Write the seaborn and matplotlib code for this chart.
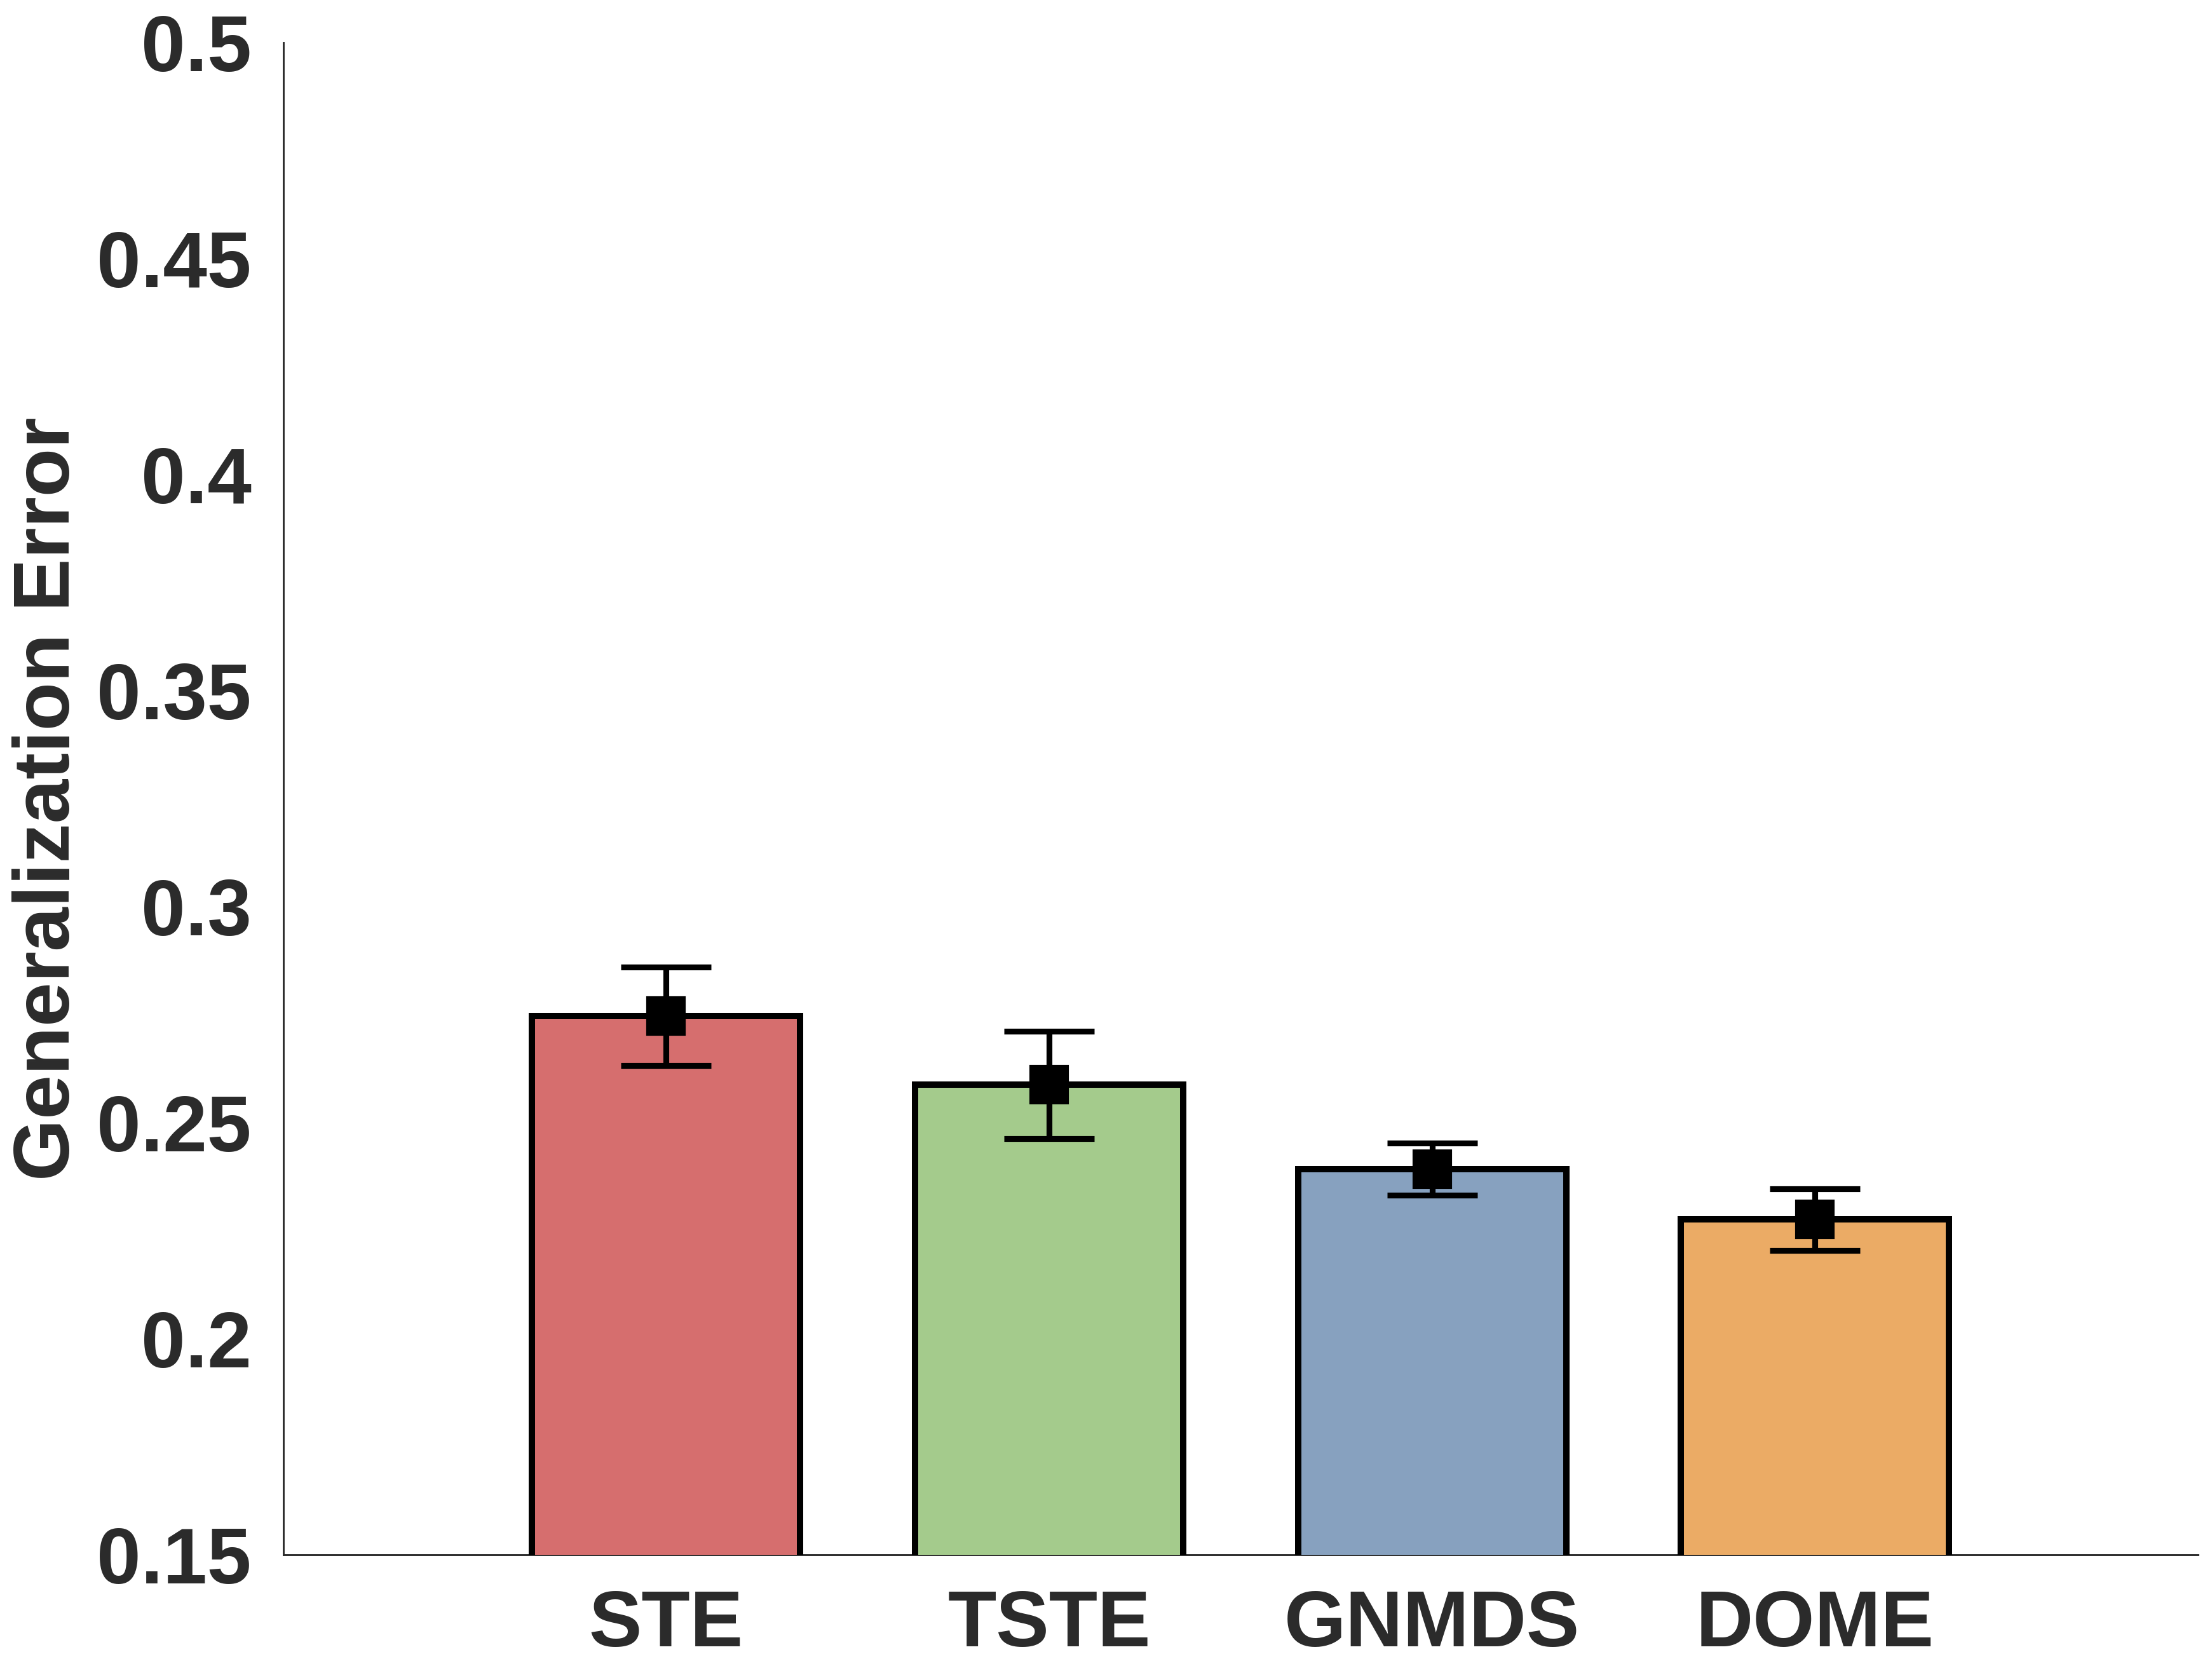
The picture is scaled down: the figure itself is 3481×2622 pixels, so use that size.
import numpy as np
import pandas as pd
import matplotlib
matplotlib.use("Agg")
import matplotlib.pyplot as plt
import seaborn as sns

# values
methods = ["STE", "TSTE", "GNMDS", "DOME"]
mean_error = [0.2747, 0.2588, 0.2393, 0.2276]
err_half = [0.0114, 0.0124, 0.0060, 0.0071]
bar_colors = ["#d66e6e", "#a4cb8c", "#87a1bf", "#ebab65"]
y_ticks = [0.15, 0.2, 0.25, 0.3, 0.35, 0.4, 0.45, 0.5]
y_tick_labels = ["0.15", "0.2", "0.25", "0.3", "0.35", "0.4", "0.45", "0.5"]

sns.set_style("white")
plt.rcParams["font.family"] = ["Liberation Sans", "DejaVu Sans"]
plt.rcParams["font.weight"] = "bold"

df = pd.DataFrame({"Method": methods, "Error": mean_error})

fig = plt.figure(figsize=(3481 / 300, 2622 / 300), dpi=300)
ax = fig.add_axes([0.128, 0.0667, 0.8657, 0.9077])

sns.barplot(data=df, x="Method", y="Error", hue="Method", palette=bar_colors,
            width=0.7, edgecolor="black", linewidth=2.4, saturation=1,
            legend=False, ax=ax)

xs = np.arange(len(methods))
ax.errorbar(xs, mean_error, yerr=err_half, fmt="s", color="black",
            markersize=14, elinewidth=2.2, capsize=17, capthick=2.2, zorder=5)

ax.set_xlim(-1, 4)
ax.set_ylim(0.15, 0.5)
ax.set_yticks(y_ticks)
ax.set_yticklabels(y_tick_labels)
ax.set_axisbelow(False)

text_color = "#2b2b2b"
ax.tick_params(axis="both", direction="in", length=6.5, width=0.8,
               labelsize=30, labelcolor=text_color)
ax.tick_params(axis="y", pad=12, colors=text_color)
ax.tick_params(axis="x", pad=13, color=(0.55, 0.1, 0.1, 0.45),
               labelcolor=text_color)
for lab in ax.get_xticklabels() + ax.get_yticklabels():
    lab.set_fontweight("bold")

ax.set_xlabel("")
ax.set_ylabel("Generalization Error", fontsize=30, fontweight="bold",
              color=text_color)
ax.yaxis.set_label_coords(-0.103, 0.5)

sns.despine(ax=ax, top=True, right=True)
for side in ["left", "bottom"]:
    ax.spines[side].set_color(text_color)
    ax.spines[side].set_linewidth(0.7)
    ax.spines[side].set_zorder(0.5)

fig.savefig("out.png", dpi=300)
